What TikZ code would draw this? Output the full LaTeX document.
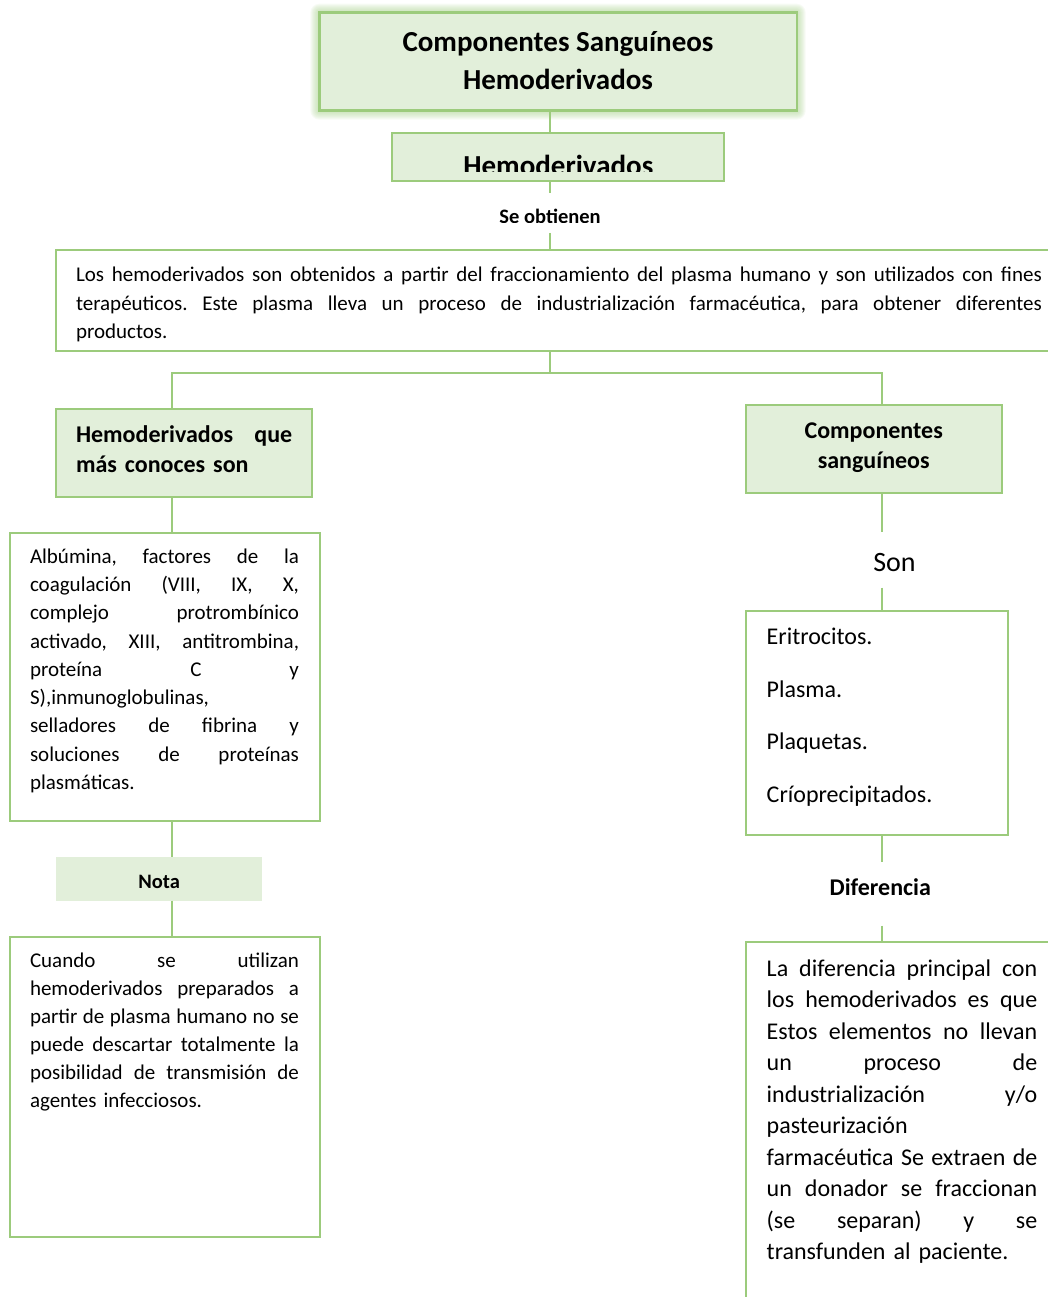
\documentclass[tikz,border=0pt]{standalone}
\usepackage{fontspec}
\setmainfont{Carlito}
\frenchspacing
\definecolor{grline}{HTML}{9CCB7C}
\definecolor{grfill}{HTML}{E2EFDA}
\definecolor{glowc}{HTML}{A9D18E}
\newcommand\jl[1]{\leavevmode\hbox to \hsize{\spaceskip=\fontdimen2\font plus 1fil minus \fontdimen4\font\relax #1}}
\newcommand\fsz[2]{\fontsize{#1}{#2}\selectfont}
\tikzset{
  boxa/.style={draw=grline, line width=1.8pt, fill=grfill, anchor=north west, inner sep=0pt, outer sep=0pt},
  boxb/.style={draw=grline, line width=1.8pt, anchor=north west, inner sep=0pt, outer sep=0pt},
  ghost/.style={inner sep=0pt, outer sep=0pt, minimum width=4pt},
  conn/.style={draw=grline, line width=1.8pt},
  txt/.style={anchor=base west, inner sep=0pt, outer sep=0pt, align=left},
  ctxt/.style={anchor=base, inner sep=0pt, outer sep=0pt},
}
\begin{document}
\begin{tikzpicture}[x=1pt,y=-1pt]
\useasboundingbox (0,0) rectangle (1048,1297);
\clip (0,0) rectangle (1048,1297);

% glow of title
\foreach \r in {1,...,9}
  \fill[glowc, opacity=0.09, rounded corners=\r pt] (319.3-\r,12.7-\r) rectangle (796.7+\r,110.7+\r);

% title
\node[boxa, line width=2.4pt, minimum width=477.4, minimum height=98] (title) at (319.3,12.7) {};
\node[ctxt, font=\fsz{29}{36}\bfseries] (t1) at (558,52) {Componentes Sanguíneos};
\node[ctxt, font=\fsz{29}{36}\bfseries] (t2) at (558,89.5) {Hemoderivados};

% Hemoderivados
\node[boxa, minimum width=332.6, minimum height=48.3] (hemo) at (391.7,132.7) {};
\begin{scope}
  \clip (391.7,132.7) rectangle (724.3,171.3);
  \node[ctxt, font=\fsz{29}{36}\bfseries] (hemotxt) at (558.3,175.4) {Hemoderivados};
\end{scope}
\coordinate (cx) at (550,0);
\draw[conn] (cx |- title.south) -- (cx |- hemo.north);

% Se obtienen
\node[ghost, minimum height=40.3] (seob) at (550,212.85) {};
\draw[conn] (seob.north |- hemo.south) -- (seob.north);
\begin{scope}
  \clip (440,195) rectangle (660,222.3);
  \node[ctxt, font=\fsz{20.5}{25}\bfseries] (seobtxt) at (550,223.9) {Se obtienen};
\end{scope}

% paragraph box
\node[boxb, minimum width=1020, minimum height=101] (para) at (56,250) {};
\draw[conn] (seob.south) -- (seob.south |- para.north);
\node[txt, text width=966, font=\fsz{21}{28.5}] (paratxt) at (76,281.7) {%
\jl{Los hemoderivados son obtenidos a partir del fraccionamiento del plasma humano y son utilizados con fines}\\
\jl{terapéuticos. Este plasma lleva un proceso de industrialización farmacéutica, para obtener diferentes}\\
productos.};

% fork
\coordinate (fork) at (550,373);
\coordinate (lx) at (172,373);
\coordinate (rx) at (882,373);

% left header
\node[boxa, minimum width=256.6, minimum height=88] (lh) at (55.7,409) {};
\node[txt, text width=216.3, font=\fsz{24}{30}\bfseries] (lhtxt) at (76,442.7) {%
\jl{Hemoderivados que}\\más conoces son};

% right header
\node[boxa, minimum width=256.3, minimum height=88] (rh) at (745.7,404.7) {};
\node[ctxt, text width=250, align=center, font=\fsz{24}{30}\bfseries] (rhtxt) at (873.7,438.3) {Componentes\\sanguíneos};

\draw[conn] (fork |- para.south) -- (fork);
\draw[conn] (lx |- lh.north) -- (lx) -- (rx) -- (rx |- rh.north);

% Albumina box
\node[boxb, minimum width=310, minimum height=288] (alb) at (10,532.7) {};
\draw[conn] (lx |- lh.south) -- (lx |- alb.north);
\node[txt, text width=269, font=\fsz{21}{28.25}] (albtxt) at (30,563.3) {%
\jl{Albúmina, factores de la}\\
\jl{coagulación (VIII, IX, X,}\\
\jl{complejo protrombínico}\\
\jl{activado, XIII, antitrombina,}\\
\jl{proteína C y}\\
S),inmunoglobulinas,\\
\jl{selladores de fibrina y}\\
\jl{soluciones de proteínas}\\
plasmáticas.};

% Nota
\node[fill=grfill, anchor=north west, inner sep=0pt, outer sep=0pt, minimum width=206, minimum height=43.4] (nota) at (56,857.3) {};
\node[ctxt, font=\fsz{20.5}{25}\bfseries] (notatxt) at (159.2,888.3) {Nota};
\draw[conn] (lx |- alb.south) -- (lx |- nota.north);

% Cuando box
\node[boxb, minimum width=310, minimum height=300] (cuando) at (10,936.7) {};
\draw[conn] (lx |- nota.south) -- (lx |- cuando.north);
\node[txt, text width=269, font=\fsz{21}{28}] (cuandotxt) at (30,967.3) {%
\jl{Cuando se utilizan}\\
\jl{hemoderivados preparados a}\\
\jl{partir de plasma humano no se}\\
\jl{puede descartar totalmente la}\\
\jl{posibilidad de transmisión de}\\
agentes infecciosos.};

% Son
\node[ghost, minimum height=56] (son) at (882,559.7) {};
\node[ctxt, font=\fsz{28}{34}] (sontxt) at (894.5,571.7) {Son};
\draw[conn] (rx |- rh.south) -- (son.north);

% list box
\node[boxb, minimum width=262, minimum height=224.3] (list) at (745.7,610.7) {};
\draw[conn] (son.south) -- (rx |- list.north);
\node[txt, font=\fsz{24}{30}] (l1) at (766.7,644.3) {Eritrocitos.};
\node[txt, font=\fsz{24}{30}] (l2) at (766.7,697) {Plasma.};
\node[txt, font=\fsz{24}{30}] (l3) at (766.7,749.7) {Plaquetas.};
\node[txt, font=\fsz{24}{30}] (l4) at (766.7,802.4) {Críoprecipitados.};

% Diferencia
\node[ghost, minimum height=64] (dif) at (882,893.7) {};
\node[ctxt, font=\fsz{24}{30}\bfseries] (diftxt) at (880.3,895) {Diferencia};
\draw[conn] (rx |- list.south) -- (dif.north);

% difference box
\node[boxb, minimum width=330, minimum height=380] (diffbox) at (745.7,941.7) {};
\draw[conn] (dif.south) -- (rx |- diffbox.north);
\node[txt, text width=270.6, font=\fsz{24}{31.55}] (difftxt) at (766.7,976) {%
\jl{La diferencia principal con}\\
\jl{los hemoderivados es que}\\
\jl{Estos elementos no llevan}\\
\jl{un proceso de}\\
\jl{industrialización y/o}\\
pasteurización\\
\jl{farmacéutica Se extraen de}\\
\jl{un donador se fraccionan}\\
\jl{(se separan) y se}\\
transfunden al paciente.};
\end{tikzpicture}
\end{document}
